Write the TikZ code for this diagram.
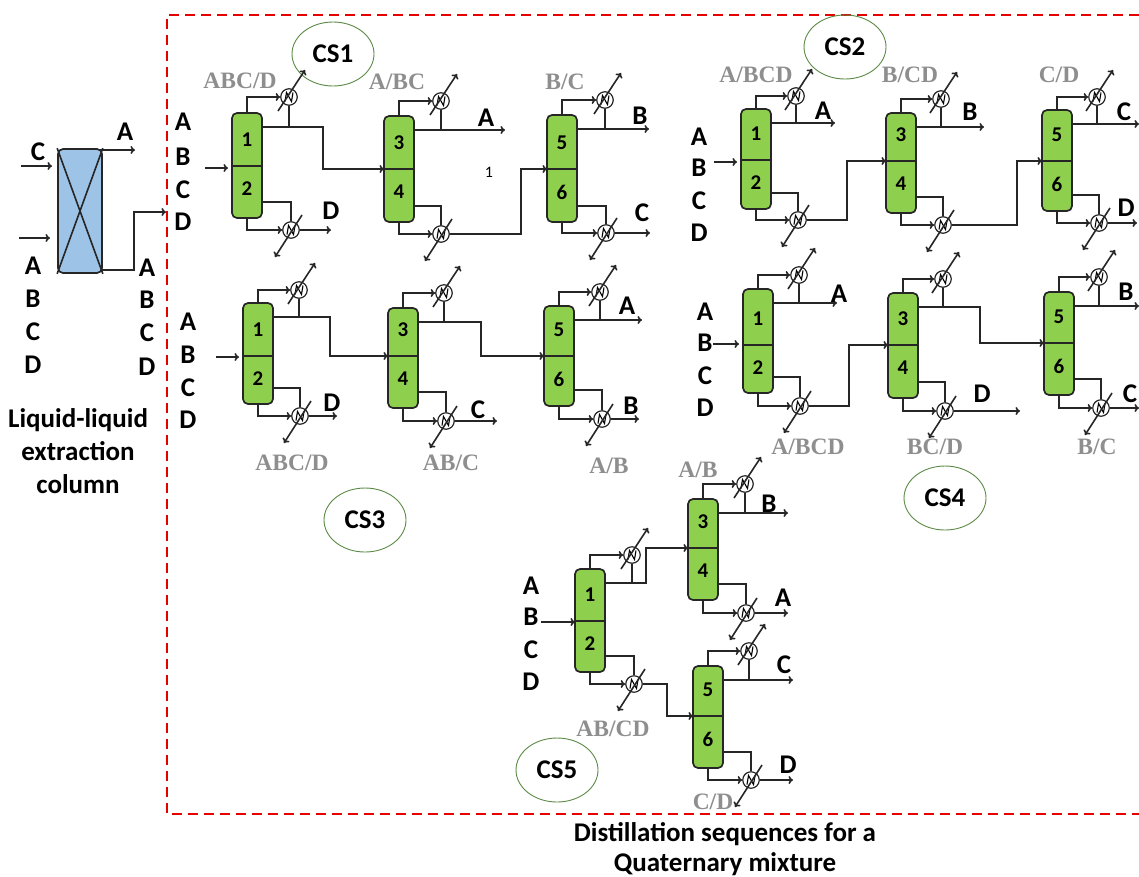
\documentclass[tikz,border=0pt]{standalone}
\usepackage{fontspec}
\setmainfont{Carlito}
\newfontfamily\cutfont{Liberation Serif}
\usetikzlibrary{shapes.geometric,arrows.meta}
\definecolor{colgreen}{HTML}{8FCF4E}
\definecolor{llblue}{HTML}{9DC3E6}
\definecolor{cutgray}{HTML}{8E8E8E}
\definecolor{ringgreen}{HTML}{5B8A45}
\tikzset{
  flow/.style={line width=1.6pt,black!85},
  feed/.style={flow,->,shorten >=4pt},
  colbox/.style={draw=black!85,line width=1.7pt,fill=colgreen,rounded corners=5pt,minimum width=30pt,inner sep=0pt},
  colnum/.style={font=\fontsize{21}{21}\selectfont\bfseries,inner sep=0pt},
  hxbox/.style={circle,draw=black!85,line width=1.2pt,fill=white,minimum size=16.5pt,inner sep=0pt},
  letter/.style={font=\fontsize{27}{27}\selectfont\bfseries,inner sep=0pt},
  cutlabel/.style={font=\cutfont\fontsize{23.5}{23.5}\selectfont\bfseries,text=cutgray,inner sep=0pt},
  csring/.style={ellipse,draw=ringgreen,line width=0.9pt,minimum width=82pt,minimum height=64pt,inner sep=0pt,font=\fontsize{27}{27}\selectfont\bfseries},
  caption/.style={font=\fontsize{27}{30}\selectfont\bfseries,align=center,inner sep=0pt},
}
\newcommand{\colunit}[7]{
  \pgfmathsetmacro{\cx}{#2+15}
  \pgfmathsetmacro{\cy}{(#3+#4)/2}
  \pgfmathsetmacro{\ch}{#4-#3}
  \node[colbox,minimum height=\ch pt] (#1) at (\cx,\cy) {};
  \coordinate (#1f) at (#2,#5);
  \coordinate (#1e) at (#2+30,#5);
  \coordinate (#1t) at (#2+30,#3+14);
  \coordinate (#1b) at (#2+30,#4-16);
  \draw[flow] (#1f) -- (#1e);
  \node[colnum] (#1u) at (\cx,#5-26) {#6};
  \node[colnum] (#1l) at (\cx,#5+23) {#7};
}
\newcommand{\hxglyph}[1]{
  \draw[line width=1.1pt] ([shift={(-4,4.5)}]#1.center) -- ([shift={(-2.5,-4.5)}]#1.center) -- ([shift={(2.5,4.5)}]#1.center) -- ([shift={(4,-4.5)}]#1.center);
}
\newcommand{\hxpair}[5]{
  \node[hxbox] (#1c) at (#2,#3) {};
  \node[hxbox] (#1r) at (#4,#5) {};
  \hxglyph{#1c}
  \hxglyph{#1r}
  \draw[flow,->] ([shift={(-11,14)}]#1c.center) -- ([shift={(16,-27)}]#1c.center);
  \draw[flow,->] ([shift={(11,-15)}]#1r.center) -- ([shift={(-16,27)}]#1r.center);
  \draw[flow,->] (#1.north) |- (#1c);
  \draw[flow,->] (#1.south) |- (#1r);
  \draw[flow] (#1t) -| (#1c);
  \draw[flow] (#1b) -| (#1r);
}
\newcommand{\abcd}[6]{
  \node[letter] (#1a) at (#2,#3) {A};
  \node[letter] (#1b) at (#2,#4) {B};
  \node[letter] (#1c) at (#2,#5) {C};
  \node[letter] (#1d) at (#2,#6) {D};
}
\begin{document}
\begin{tikzpicture}[x=1pt,y=-1pt,>={To[length=4.5pt,width=8pt]}]
\useasboundingbox (0,0) rectangle (1139,876);
\coordinate (boxtl) at (167,15);
\coordinate (boxtr) at (1139,15);
\coordinate (boxbl) at (167,814);
\coordinate (boxbr) at (1139,814);
\draw[red!90!black,line width=2.6pt,dash pattern=on 10pt off 6pt] (boxtr) -- (boxtl) -- (boxbl) -- (boxbr);

\node[draw=black!85,line width=1.7pt,fill=llblue,rounded corners=5pt,minimum width=44pt,minimum height=124pt,inner sep=0pt] (lle) at (80,211) {};
\draw[flow] (lle.north west) -- (lle.south east);
\draw[flow] (lle.north east) -- (lle.south west);
\coordinate (ca) at (21,166);
\coordinate (cb) at (52,166);
\coordinate (fa) at (19,238);
\coordinate (fb) at (50,238);
\coordinate (ta) at (100,150);
\coordinate (tb) at (135,150);
\coordinate (ra) at (102,270);
\coordinate (rb) at (166,212);
\draw[flow,->] (ca) -- (cb);
\draw[flow,->] (fa) -- (fb);
\draw[flow,->] (ta) -- (tb);
\draw[flow,->] (ra) -| (134,212) -- (rb);
\node[letter] (lla) at (125,132) {A};
\node[letter] (llc) at (38,152) {C};
\abcd{lf}{33}{266}{299}{332}{365}
\abcd{lr}{147}{268}{300}{333}{367}
\node[caption,font=\fontsize{27}{33}\selectfont\bfseries] (llname) at (78,451) {Liquid-liquid\\extraction\\column};

\node[csring] (cs1) at (333,54) {CS1};
\abcd{sa}{183}{122}{157}{190}{222}
\coordinate (sai) at (205,168);
\colunit{a1}{232}{113}{218}{166}{1}{2}
\hxpair{a1}{289}{97}{291}{230}
\colunit{a2}{384}{116}{222}{169}{3}{4}
\hxpair{a2}{441}{101}{441}{234}
\colunit{a3}{547}{115}{222}{169}{5}{6}
\hxpair{a3}{605}{100}{606}{233}
\coordinate (a1d) at (331,230);
\coordinate (a2d) at (505,131);
\coordinate (a3d) at (649,130);
\coordinate (a3e) at (650,233);
\draw[feed] (sai) -- (sai -| a1f);
\draw[flow,->] (a1t) -| ([xshift=-61pt]a2f) -- (a2f);
\draw[flow,->] (a1r) -- (a1d);
\draw[flow,->] (a2t) -- (a2d |- a2t);
\draw[flow,->] (a2r) -| ([xshift=-26pt]a3f) -- (a3f);
\draw[flow,->] (a3t) -- (a3d |- a3t);
\draw[flow,->] (a3r) -- (a3e);
\node[letter] (a1dl) at (331,211) {D};
\node[letter] (a2al) at (486,118) {A};
\node[letter] (a3bl) at (640,116) {B};
\node[letter] (a3cl) at (642,213) {C};
\node[font=\fontsize{16}{16}\selectfont,inner sep=0pt] (stray) at (489,172) {1};
\node[cutlabel] (a1cut) at (240,81) {ABC/D};
\node[cutlabel] (a2cut) at (397,82) {A/BC};
\node[cutlabel] (a3cut) at (565,82) {B/C};

\node[csring] (cs2) at (845,47) {CS2};
\abcd{sb}{699}{137}{168}{201}{233}
\coordinate (sbi) at (714,162);
\colunit{b1}{741}{109}{209}{160}{1}{2}
\hxpair{b1}{796}{96}{798}{220}
\colunit{b2}{886}{113}{213}{161}{3}{4}
\hxpair{b2}{941}{99}{943}{225}
\colunit{b3}{1042}{110}{211}{161}{5}{6}
\hxpair{b3}{1097}{97}{1099}{223}
\coordinate (b1d) at (835,123);
\coordinate (b2d) at (984,126);
\coordinate (b3d) at (1139,124);
\coordinate (b3e) at (1137,223);
\draw[feed] (sbi) -- (sbi -| b1f);
\draw[flow,->] (b1t) -- (b1d |- b1t);
\draw[flow,->] (b1r) -| ([xshift=-39pt]b2f) -- (b2f);
\draw[flow,->] (b2t) -- (b2d |- b2t);
\draw[flow,->] (b2r) -| ([xshift=-25pt]b3f) -- (b3f);
\draw[flow,->] (b3t) -- (b3d |- b3t);
\draw[flow,->] (b3r) -- (b3e);
\node[letter] (b1al) at (823,111) {A};
\node[letter] (b2bl) at (970,112) {B};
\node[letter] (b3cl) at (1124,112) {C};
\node[letter] (b3dl) at (1126,208) {D};
\node[cutlabel] (b1cut) at (756,75) {A/BCD};
\node[cutlabel] (b2cut) at (910,75) {B/CD};
\node[cutlabel] (b3cut) at (1059,75) {C/D};

\node[csring] (cs3) at (365,520) {CS3};
\abcd{sc}{188}{322}{355}{388}{420}
\coordinate (sci) at (216,357);
\colunit{c1}{243}{303}{404}{356}{1}{2}
\hxpair{c1}{299}{290}{300}{416}
\colunit{c2}{388}{308}{408}{356}{3}{4}
\hxpair{c2}{444}{293}{446}{421}
\colunit{c3}{544}{306}{406}{356}{5}{6}
\hxpair{c3}{600}{292}{602}{419}
\coordinate (c1d) at (337,416);
\coordinate (c2d) at (497,421);
\coordinate (c3d) at (642,319);
\coordinate (c3e) at (639,419);
\draw[feed] (sci) -- (sci -| c1f);
\draw[flow,->] (c1t) -| ([xshift=-58pt]c2f) -- (c2f);
\draw[flow,->] (c1r) -- (c1d);
\draw[flow,->] (c2t) -| ([xshift=-63pt]c3f) -- (c3f);
\draw[flow,->] (c2r) -- (c2d);
\draw[flow,->] (c3t) -- (c3d |- c3t);
\draw[flow,->] (c3r) -- (c3e);
\node[letter] (c1dl) at (332,403) {D};
\node[letter] (c2cl) at (478,410) {C};
\node[letter] (c3al) at (627,306) {A};
\node[letter] (c3bl) at (631,406) {B};
\node[cutlabel] (c1cut) at (292,463) {ABC/D};
\node[cutlabel] (c2cut) at (451,463) {AB/C};
\node[cutlabel] (c3cut) at (609,466) {A/B};

\node[csring] (cs4) at (945,498) {CS4};
\abcd{sd}{705}{312}{343}{376}{408}
\coordinate (sdi) at (713,344);
\colunit{d1}{743}{289}{393}{345}{1}{2}
\hxpair{d1}{799}{275}{800}{406}
\colunit{d2}{888}{293}{398}{345}{3}{4}
\hxpair{d2}{943}{279}{945}{411}
\colunit{d3}{1044}{292}{395}{343}{5}{6}
\hxpair{d3}{1099}{277}{1101}{408}
\coordinate (d1d) at (837,304);
\coordinate (d2d) at (1020,411);
\coordinate (d3d) at (1139,306);
\coordinate (d3e) at (1139,408);
\draw[feed] (sdi) -- (sdi -| d1f);
\draw[flow,->] (d1t) -- (d1d |- d1t);
\draw[flow,->] (d1r) -| ([xshift=-39pt]d2f) -- (d2f);
\draw[flow,->] (d2t) -| ([xshift=-64pt]d3f) -- (d3f);
\draw[flow,->] (d2r) -- (d2d);
\draw[flow,->] (d3t) -- (d3d |- d3t);
\draw[flow,->] (d3r) -- (d3e);
\node[letter] (d1al) at (839,294) {A};
\node[letter] (d2dl) at (982,394) {D};
\node[letter] (d3bl) at (1126,292) {B};
\node[letter] (d3cl) at (1130,394) {C};
\node[cutlabel] (d1cut) at (808,447) {A/BCD};
\node[cutlabel] (d2cut) at (935,447) {BC/D};
\node[cutlabel] (d3cut) at (1097,447) {B/C};

\node[csring] (cs5) at (557,770) {CS5};
\abcd{se}{531}{586}{617}{650}{682}
\coordinate (sei) at (541,622);
\colunit{e1}{575}{569}{672}{621}{1}{2}
\hxpair{e1}{632}{555}{634}{684}
\colunit{e2}{688}{499}{600}{548}{3}{4}
\hxpair{e2}{745}{484}{746}{613}
\colunit{e3}{693}{666}{768}{716}{5}{6}
\hxpair{e3}{749}{651}{751}{780}
\coordinate (e2d) at (788,512);
\coordinate (e2e) at (788,613);
\coordinate (e3d) at (793,679);
\coordinate (e3e) at (793,780);
\draw[feed,shorten >=0pt] (sei) -- (sei -| e1f);
\draw[flow,->] (e1t) -| ([xshift=-42pt]e2f) -- (e2f);
\draw[flow,->] (e1r) -| ([xshift=-26pt]e3f) -- (e3f);
\draw[flow,->] (e2t) -- (e2d |- e2t);
\draw[flow,->] (e2r) -- (e2e);
\draw[flow,->] (e3t) -- (e3d |- e3t);
\draw[flow,->] (e3r) -- (e3e);
\node[letter] (e2bl) at (769,504) {B};
\node[letter] (e2al) at (783,598) {A};
\node[letter] (e3cl) at (784,665) {C};
\node[letter] (e3dl) at (788,765) {D};
\node[cutlabel] (e2cut) at (698,470) {A/B};
\node[cutlabel] (e1cut) at (613,729) {AB/CD};
\node[cutlabel] (e3cut) at (713,802) {C/D};

\node[caption] (seqname) at (725,849) {Distillation sequences for a\\Quaternary mixture};
\end{tikzpicture}
\end{document}
